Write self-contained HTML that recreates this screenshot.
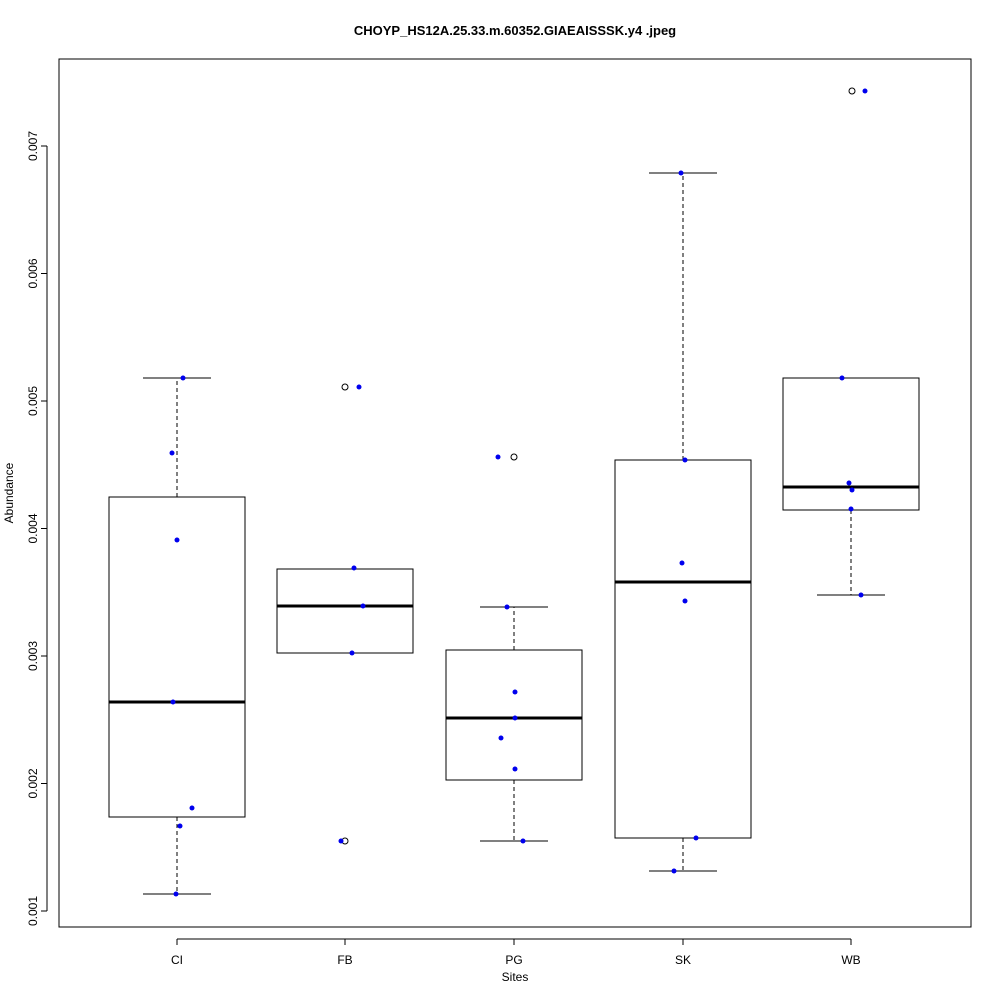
<!DOCTYPE html>
<html><head><meta charset="utf-8"><style>body{margin:0;background:#fff}</style></head><body>
<svg width="1000" height="1000" xmlns="http://www.w3.org/2000/svg" font-family="Liberation Sans, sans-serif">
<rect width="1000" height="1000" fill="#fff"/>
<text x="515" y="35" font-size="13" font-weight="bold" text-anchor="middle">CHOYP_HS12A.25.33.m.60352.GIAEAISSSK.y4 .jpeg</text>
<rect x="59" y="59" width="912" height="868" fill="none" stroke="#000"/>
<g stroke="#000" fill="none">
<line x1="47" y1="146" x2="47" y2="911"/>
<line x1="41" y1="911" x2="47" y2="911"/><line x1="41" y1="783.5" x2="47" y2="783.5"/><line x1="41" y1="656" x2="47" y2="656"/><line x1="41" y1="528.5" x2="47" y2="528.5"/><line x1="41" y1="401" x2="47" y2="401"/><line x1="41" y1="273.5" x2="47" y2="273.5"/><line x1="41" y1="146" x2="47" y2="146"/>
<line x1="177" y1="939" x2="851" y2="939"/>
<line x1="177" y1="939" x2="177" y2="945"/><line x1="345" y1="939" x2="345" y2="945"/><line x1="514" y1="939" x2="514" y2="945"/><line x1="683" y1="939" x2="683" y2="945"/><line x1="851" y1="939" x2="851" y2="945"/>
</g>
<g font-size="12" text-anchor="middle">
<text transform="translate(37,911) rotate(-90)">0.001</text>
<text transform="translate(37,783.5) rotate(-90)">0.002</text>
<text transform="translate(37,656) rotate(-90)">0.003</text>
<text transform="translate(37,528.5) rotate(-90)">0.004</text>
<text transform="translate(37,401) rotate(-90)">0.005</text>
<text transform="translate(37,273.5) rotate(-90)">0.006</text>
<text transform="translate(37,146) rotate(-90)">0.007</text>
<text x="177" y="964">CI</text><text x="345" y="964">FB</text><text x="514" y="964">PG</text><text x="683" y="964">SK</text><text x="851" y="964">WB</text>
<text x="515" y="981">Sites</text>
<text transform="translate(13,493) rotate(-90)">Abundance</text>
</g>
<g stroke="#000" fill="none">
<!-- CI -->
<rect x="109" y="497" width="136" height="320"/><line x1="109" y1="702" x2="245" y2="702" stroke-width="3"/>
<line x1="177" y1="497" x2="177" y2="378" stroke-dasharray="4,3"/><line x1="177" y1="817" x2="177" y2="894" stroke-dasharray="4,3"/>
<line x1="143" y1="378" x2="211" y2="378"/><line x1="143" y1="894" x2="211" y2="894"/>
<!-- FB -->
<rect x="277" y="569" width="136" height="84"/><line x1="277" y1="606" x2="413" y2="606" stroke-width="3"/>
<line x1="311" y1="569" x2="379" y2="569"/><line x1="311" y1="653" x2="379" y2="653"/>
<circle cx="345" cy="387" r="3"/><circle cx="345" cy="841" r="3"/>
<!-- PG -->
<rect x="446" y="650" width="136" height="130"/><line x1="446" y1="718" x2="582" y2="718" stroke-width="3"/>
<line x1="514" y1="650" x2="514" y2="607" stroke-dasharray="4,3"/><line x1="514" y1="780" x2="514" y2="841" stroke-dasharray="4,3"/>
<line x1="480" y1="607" x2="548" y2="607"/><line x1="480" y1="841" x2="548" y2="841"/>
<circle cx="514" cy="457" r="3"/>
<!-- SK -->
<rect x="615" y="460" width="136" height="378"/><line x1="615" y1="582" x2="751" y2="582" stroke-width="3"/>
<line x1="683" y1="460" x2="683" y2="173" stroke-dasharray="4,3"/><line x1="683" y1="838" x2="683" y2="871" stroke-dasharray="4,3"/>
<line x1="649" y1="173" x2="717" y2="173"/><line x1="649" y1="871" x2="717" y2="871"/>
<!-- WB -->
<rect x="783" y="378" width="136" height="132"/><line x1="783" y1="487" x2="919" y2="487" stroke-width="3"/>
<line x1="851" y1="510" x2="851" y2="595" stroke-dasharray="4,3"/>
<line x1="817" y1="378" x2="885" y2="378"/><line x1="817" y1="595" x2="885" y2="595"/>
<circle cx="852" cy="91" r="3"/>
</g>
<g fill="#0000ee">
<circle cx="183" cy="378" r="2.5"/><circle cx="172" cy="453" r="2.5"/><circle cx="177" cy="540" r="2.5"/><circle cx="173" cy="702" r="2.5"/><circle cx="192" cy="808" r="2.5"/><circle cx="180" cy="826" r="2.5"/><circle cx="176" cy="894" r="2.5"/>
<circle cx="359" cy="387" r="2.5"/><circle cx="354" cy="568" r="2.5"/><circle cx="363" cy="606" r="2.5"/><circle cx="352" cy="653" r="2.5"/><circle cx="341" cy="841" r="2.5"/>
<circle cx="498" cy="457" r="2.5"/><circle cx="507" cy="607" r="2.5"/><circle cx="515" cy="692" r="2.5"/><circle cx="515" cy="718" r="2.5"/><circle cx="501" cy="738" r="2.5"/><circle cx="515" cy="769" r="2.5"/><circle cx="523" cy="841" r="2.5"/>
<circle cx="681" cy="173" r="2.5"/><circle cx="685" cy="460" r="2.5"/><circle cx="682" cy="563" r="2.5"/><circle cx="685" cy="601" r="2.5"/><circle cx="696" cy="838" r="2.5"/><circle cx="674" cy="871" r="2.5"/>
<circle cx="865" cy="91" r="2.5"/><circle cx="842" cy="378" r="2.5"/><circle cx="849" cy="483" r="2.5"/><circle cx="852" cy="490" r="2.5"/><circle cx="851" cy="509" r="2.5"/><circle cx="861" cy="595" r="2.5"/>
</g>
</svg>
</body></html>
